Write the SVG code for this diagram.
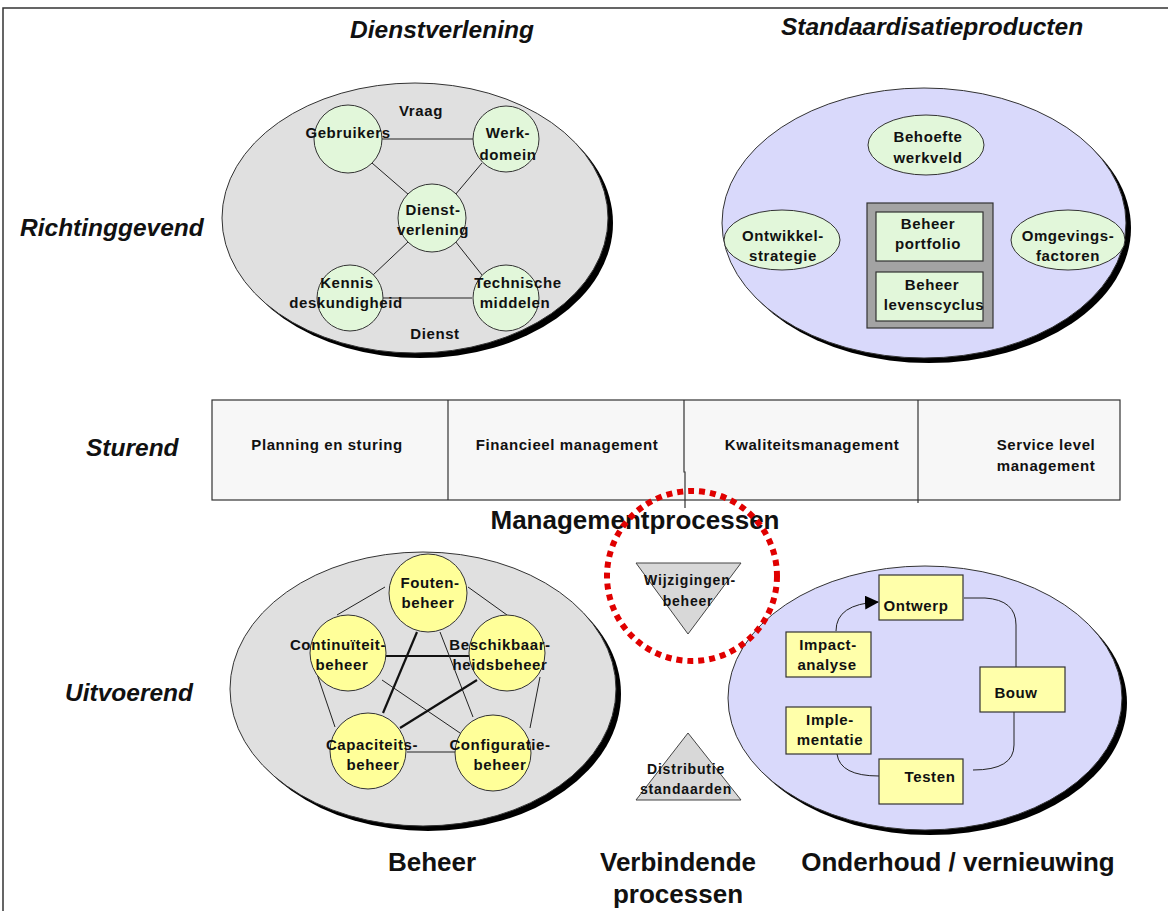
<svg xmlns="http://www.w3.org/2000/svg" width="1168" height="911" viewBox="0 0 1168 911">
<style>
text{font-family:"Liberation Sans",Arial,sans-serif;font-weight:bold;fill:#111;text-anchor:middle}
.t{font-size:15px;letter-spacing:0.6px}
.s{font-size:14px;letter-spacing:0.8px}
.title{font-size:24.5px;font-style:italic}
.row{font-size:24.5px;font-style:italic;text-anchor:start}
.big{font-size:26px}
.shadow{fill:#000}
.grayE{fill:#e0e0e0;stroke:#333;stroke-width:1}
.blueE{fill:#d9d9fb;stroke:#333;stroke-width:1}
.green{fill:#e2f7da;stroke:#333;stroke-width:1}
.yellow{fill:#ffff99;stroke:#333;stroke-width:1}
.ybox{fill:#ffffaa;stroke:#333;stroke-width:1.2}
.tri{fill:#d8d8d8;stroke:#444;stroke-width:1}
.thin{stroke:#222;stroke-width:1;fill:none}
.thick{stroke:#111;stroke-width:2.2;fill:none}
.heavy{stroke:#000;stroke-width:3;fill:none}
.cell{fill:#f7f7f7;stroke:#333;stroke-width:1.2}
</style>
<defs>
<marker id="arr" markerWidth="14" markerHeight="14" refX="13" refY="7" orient="auto" markerUnits="userSpaceOnUse" viewBox="0 0 14 14">
<path d="M0,0 L14,7 L0,14 z" fill="#000"/>
</marker>
</defs>
<rect x="0" y="0" width="1168" height="911" fill="#fff"/>
<path d="M3,911 L3,8 L1168,8" fill="none" stroke="#333" stroke-width="1.5"/>

<g id="titles">
<text class="title" x="442" y="38">Dienstverlening</text>
<text class="title" x="932" y="35">Standaardisatieproducten</text>
<text class="row" x="20" y="236">Richtinggevend</text>
<text class="row" x="86" y="456">Sturend</text>
<text class="row" x="65" y="701">Uitvoerend</text>
</g>

<g id="dienstverlening-area">
<ellipse class="shadow" cx="420" cy="223" rx="193" ry="135"/>
<ellipse class="grayE" cx="415" cy="218" rx="193" ry="135"/>
<text class="t" x="421" y="116">Vraag</text>
<text class="t" x="435" y="339">Dienst</text>
</g>

<g id="connectors">
<line class="thin" x1="382" y1="139" x2="473" y2="139"/>
<line class="thin" x1="383" y1="298" x2="472" y2="298"/>
<line class="thin" x1="372" y1="163" x2="409" y2="195"/>
<line class="thin" x1="482" y1="163" x2="455" y2="195"/>
<line class="thin" x1="409" y1="241" x2="373" y2="275"/>
<line class="thin" x1="455" y1="241" x2="482" y2="275"/>

<line class="heavy" x1="928" y1="175" x2="928" y2="203"/>
<line class="heavy" x1="840" y1="233" x2="867" y2="233"/>
<line class="heavy" x1="993" y1="233" x2="1012" y2="233"/>
</g>

<g id="gebruikers"><circle class="green" cx="348" cy="139" r="34"/><text class="t" x="348" y="138">Gebruikers</text></g>
<g id="werkdomein"><circle class="green" cx="506" cy="139" r="33"/><text class="t" x="508" y="138">Werk-</text><text class="t" x="508" y="160">domein</text></g>
<g id="dienst-verlening"><circle class="green" cx="432" cy="218" r="34"/><text class="t" x="433" y="215">Dienst-</text><text class="t" x="433" y="235">verlening</text></g>
<g id="kennis"><circle class="green" cx="350" cy="298" r="33"/><text class="t" x="347" y="288">Kennis</text><text class="t" x="346" y="308">deskundigheid</text></g>
<g id="technische"><circle class="green" cx="506" cy="298" r="33"/><text class="t" x="518" y="288">Technische</text><text class="t" x="515" y="308">middelen</text></g>

<g id="standaardisatie-area">
<ellipse class="shadow" cx="929" cy="228" rx="202" ry="135"/>
<ellipse class="blueE" cx="924" cy="223" rx="202" ry="135"/>
</g>
<g id="behoefte"><ellipse class="green" cx="926" cy="145" rx="58" ry="30"/><text class="t" x="928" y="142">Behoefte</text><text class="t" x="928" y="163">werkveld</text></g>
<g id="ontwikkel"><ellipse class="green" cx="782" cy="240" rx="58" ry="30"/><text class="t" x="783" y="241">Ontwikkel-</text><text class="t" x="783" y="261">strategie</text></g>
<g id="omgevings"><ellipse class="green" cx="1068" cy="240" rx="57" ry="30"/><text class="t" x="1068" y="241">Omgevings-</text><text class="t" x="1068" y="261">factoren</text></g>
<g id="beheer-box">
<rect x="867" y="203" width="126" height="125" fill="#a3a3a3" stroke="#333" stroke-width="1.2"/>
<rect x="876" y="212" width="107" height="49" fill="#e2f7da" stroke="#333" stroke-width="1.2"/>
<rect x="876" y="272" width="107" height="49" fill="#e2f7da" stroke="#333" stroke-width="1.2"/>
<text class="t" x="928" y="229">Beheer</text><text class="t" x="928" y="249">portfolio</text>
<text class="t" x="932" y="290">Beheer</text><text class="t" x="934" y="310">levenscyclus</text>
</g>

<g id="sturend-bar">
<rect class="cell" x="212" y="400" width="908" height="100"/>
<line x1="448" y1="400" x2="448" y2="500" stroke="#333" stroke-width="1.2"/>
<path d="M684,400 L684,472 L685,472 L685,508" fill="none" stroke="#333" stroke-width="1.2"/>
<line x1="918" y1="400" x2="918" y2="503" stroke="#333" stroke-width="1.2"/>
<text class="t" x="327" y="450">Planning en sturing</text>
<text class="t" x="567" y="450">Financieel management</text>
<text class="t" x="812" y="450">Kwaliteitsmanagement</text>
<text class="t" x="1046" y="450">Service level</text>
<text class="t" x="1046" y="471">management</text>
</g>
<text class="big" x="635" y="529">Managementprocessen</text>

<g id="beheer-area">
<ellipse class="shadow" cx="428" cy="694" rx="193" ry="137"/>
<ellipse class="grayE" cx="423" cy="689" rx="193" ry="137"/>
<g id="beheer-lines">
<line class="thin" x1="385" y1="587" x2="337" y2="615"/>
<line class="thin" x1="468" y1="587" x2="507" y2="615"/>
<line class="thin" x1="315" y1="668" x2="335" y2="727"/>
<line class="thin" x1="540" y1="677" x2="530" y2="728"/>
<line class="thin" x1="407" y1="752" x2="455" y2="752"/>
<line class="thick" x1="386" y1="656" x2="469" y2="656"/>
<line class="thick" x1="417" y1="632" x2="383" y2="713"/>
<line class="thin" x1="440" y1="632" x2="473" y2="717"/>
<line class="thin" x1="382" y1="680" x2="460" y2="733"/>
<line class="thick" x1="477" y1="680" x2="400" y2="728"/>
</g>
</g>
<g id="fouten"><circle class="yellow" cx="428" cy="593" r="39"/><text class="t" x="430" y="588">Fouten-</text><text class="t" x="428" y="608">beheer</text></g>
<g id="continuiteit"><circle class="yellow" cx="348" cy="653" r="38"/><text class="t" x="338" y="650">Continuïteit-</text><text class="t" x="342" y="670">beheer</text></g>
<g id="beschikbaar"><circle class="yellow" cx="507" cy="653" r="38"/><text class="t" x="500" y="650">Beschikbaar-</text><text class="t" x="500" y="670">heidsbeheer</text></g>
<g id="capaciteits"><circle class="yellow" cx="368" cy="751" r="38"/><text class="t" x="372" y="750">Capaciteits-</text><text class="t" x="373" y="770">beheer</text></g>
<g id="configuratie"><circle class="yellow" cx="493" cy="753" r="38"/><text class="t" x="500" y="750">Configuratie-</text><text class="t" x="500" y="770">beheer</text></g>

<g id="wijzigingen"><polygon class="tri" points="636,563 741,563 688,634"/><text class="s" x="690" y="585">Wijzigingen-</text><text class="s" x="688" y="606">beheer</text></g>
<g id="distributie"><polygon class="tri" points="688,733 741,800 636,800"/><text class="s" x="686" y="774">Distributie</text><text class="s" x="686" y="794">standaarden</text></g>

<g id="onderhoud-area">
<ellipse class="shadow" cx="930" cy="703" rx="197" ry="132"/>
<ellipse class="blueE" cx="925" cy="698" rx="197" ry="132"/>
</g>
<g id="cycle-lines">
<path class="thin" d="M836,631 Q836,604 878,602" marker-end="url(#arr)" stroke-width="1.2"/>
<path class="thin" d="M964,598 L985,598 Q1016,600 1016,625 L1016,667"/>
<path class="thin" d="M1014,712 L1014,745 Q1014,770 973,770"/>
<path class="thin" d="M837,754 Q840,776 879,776"/>
</g>
<g id="ontwerp"><rect class="ybox" x="879" y="575" width="84" height="45"/><text class="t" x="916" y="611">Ontwerp</text></g>
<g id="impact"><rect class="ybox" x="786" y="632" width="85" height="45"/><text class="t" x="828" y="650">Impact-</text><text class="t" x="827" y="670">analyse</text></g>
<g id="bouw"><rect class="ybox" x="980" y="667" width="85" height="45"/><text class="t" x="1016" y="698">Bouw</text></g>
<g id="implementatie"><rect class="ybox" x="786" y="707" width="85" height="47"/><text class="t" x="830" y="725">Imple-</text><text class="t" x="830" y="745">mentatie</text></g>
<g id="testen"><rect class="ybox" x="879" y="759" width="84" height="45"/><text class="t" x="930" y="782">Testen</text></g>

<circle cx="692" cy="576" r="85" fill="none" stroke="#e00000" stroke-width="6" stroke-dasharray="6 5"/>

<g id="bottom-labels">
<text class="big" x="432" y="871">Beheer</text>
<text class="big" x="678" y="871">Verbindende</text>
<text class="big" x="678" y="903">processen</text>
<text class="big" x="958" y="871">Onderhoud / vernieuwing</text>
</g>
</svg>
